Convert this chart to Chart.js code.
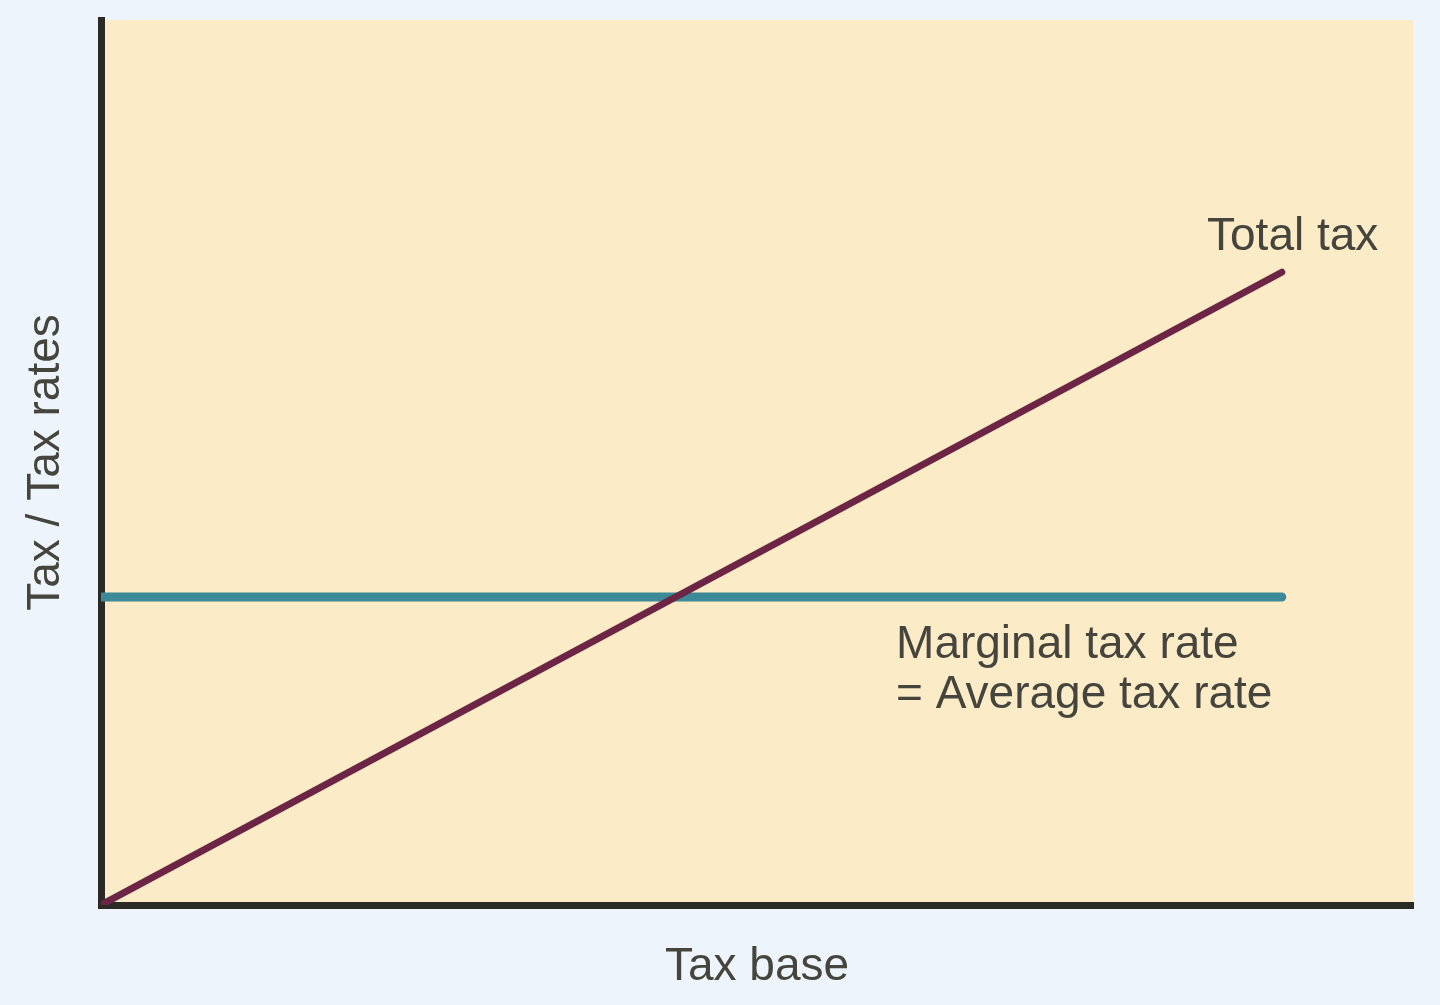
<!DOCTYPE html>
<html lang="en">

<head>
    <meta charset="UTF-8">
    <title>Tax / Tax rates</title>
    <script src="https://cdn.jsdelivr.net/npm/chart.js"></script>
    <style>
        body { margin: 0; background: #edf4fb; }
        #wrap { width: 1440px; height: 1005px; }
    </style>
</head>

<body>
    <div id="wrap"><canvas id="taxChart"></canvas></div>

    <script>
        // values (arbitrary units 0-100)
        const taxBase = [0, 90];
        const totalTax = [0, 71.5];
        const taxRate = [34.8, 34.8];

        const textColor = '#46453d';
        const axisColor = '#2b2a24';
        const fontFamily = '"Liberation Sans", Arial, sans-serif';

        // beige plot area
        const plotBg = {
            id: 'plotBg',
            beforeDraw(chart) {
                const { ctx, chartArea: a } = chart;
                ctx.save();
                ctx.fillStyle = '#fbebc7';
                ctx.fillRect(a.left, a.top, a.right - a.left, a.bottom - a.top);
                ctx.restore();
            }
        };

        // text labels next to the lines, placed in data units
        const lineLabels = {
            id: 'lineLabels',
            afterDatasetsDraw(chart) {
                const { ctx, scales: { x, y } } = chart;
                const labels = [
                    { text: 'Total tax', x: 84.3, y: 74.0 },
                    { text: 'Marginal tax rate', x: 60.6, y: 27.9 },
                    { text: '= Average tax rate', x: 60.6, y: 22.3 }
                ];
                ctx.save();
                ctx.fillStyle = textColor;
                ctx.font = '46px ' + fontFamily;
                ctx.textAlign = 'left';
                ctx.textBaseline = 'alphabetic';
                labels.forEach(l => {
                    ctx.fillText(l.text, x.getPixelForValue(l.x), y.getPixelForValue(l.y));
                });
                ctx.restore();
            }
        };

        const ctx = document.getElementById('taxChart').getContext('2d');
        const taxChart = new Chart(ctx, {
            type: 'line',
            data: {
                datasets: [{
                    label: 'Total tax',
                    data: taxBase.map((b, i) => ({ x: b, y: totalTax[i] })),
                    borderColor: '#6c2545',
                    borderWidth: 7,
                    borderCapStyle: 'round',
                    pointRadius: 0
                }, {
                    label: 'Marginal tax rate = Average tax rate',
                    data: taxBase.map((b, i) => ({ x: b, y: taxRate[i] })),
                    borderColor: '#3c8a97',
                    borderWidth: 9,
                    borderCapStyle: 'round',
                    pointRadius: 0
                }]
            },
            options: {
                responsive: true,
                maintainAspectRatio: false,
                animation: false,
                layout: {
                    padding: { top: 20, right: 27, left: 0, bottom: 0 }
                },
                plugins: {
                    legend: { display: false },
                    tooltip: { enabled: false }
                },
                scales: {
                    x: {
                        type: 'linear',
                        min: 0,
                        max: 100,
                        grid: { display: false },
                        ticks: { display: false },
                        border: { color: axisColor, width: 7 },
                        title: {
                            display: true,
                            text: 'Tax base',
                            color: textColor,
                            font: { family: fontFamily, size: 46 },
                            padding: { top: 0, bottom: 10 }
                        },
                        afterFit(scale) { scale.height = 100; }
                    },
                    y: {
                        type: 'linear',
                        min: 0,
                        max: 100,
                        grid: { display: false },
                        ticks: { display: false },
                        border: { color: axisColor, width: 7 },
                        title: {
                            display: true,
                            text: 'Tax / Tax rates',
                            color: textColor,
                            font: { family: fontFamily, size: 46 },
                            padding: { top: 19, bottom: 0 }
                        },
                        afterFit(scale) { scale.width = 101; }
                    }
                }
            },
            plugins: [plotBg, lineLabels]
        });
    </script>
</body>

</html>
